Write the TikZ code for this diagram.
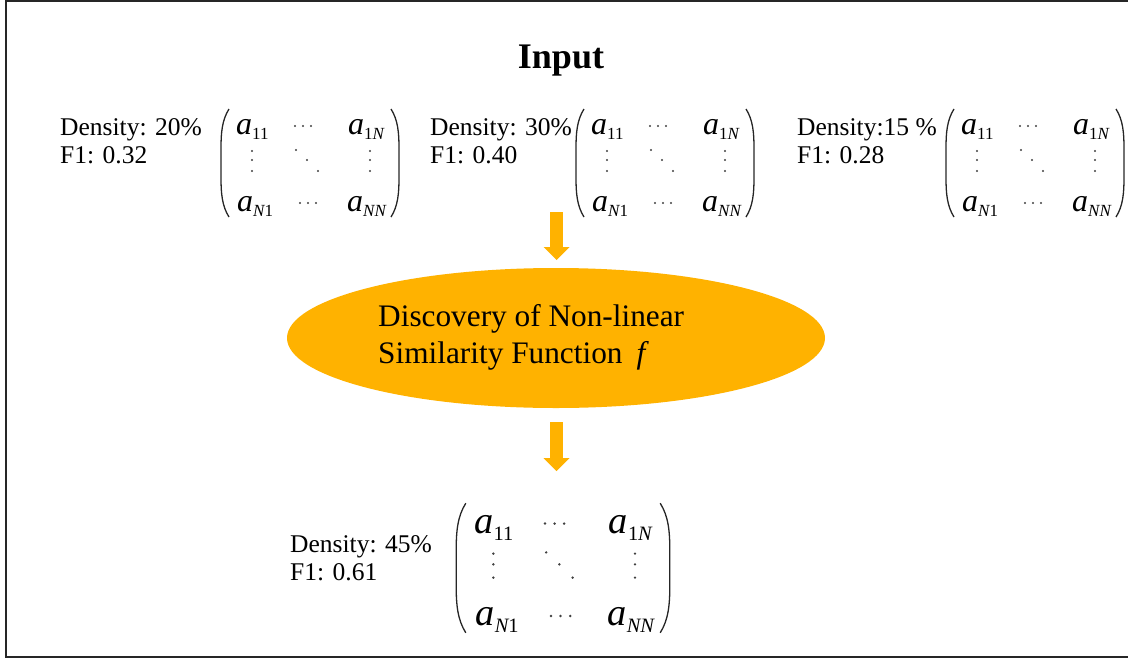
\documentclass[tikz,border=0pt]{standalone}
\usepackage{fontspec}
\setmainfont{Liberation Serif}
\usetikzlibrary{arrows.meta,shapes.geometric}
\definecolor{amber}{RGB}{255,178,0}
\tikzset{
  lbl/.style={anchor=base west, align=left, inner sep=0pt, font=\fontsize{25.5}{28}\selectfont},
  ent/.style={anchor=base west, inner sep=0pt, font=\fontsize{32}{32}\selectfont\itshape},
  dotm/.style={fill=black!75},
  paren/.style={line width=1.3pt, draw=black!85},
  blockarrow/.style={draw=amber, line width=13pt, -{Triangle[line width=0pt, width=26pt, length=13pt, fill=amber]}},
  frame/.style={line width=2.5pt, draw=black!85},
}
\newcommand\sbs[1]{\raisebox{-0.18em}{\fontsize{17}{17}\selectfont #1}}
\newcommand\matblock[4]{%
  \begin{scope}[shift={(#2,#3)}, scale=#4, every node/.append style={transform shape}]
    \draw[paren] (9,1) .. controls (2,12) and (1,25) .. (1,40) -- (1,70) .. controls (1,85) and (2,98) .. (9,109);
    \draw[paren] (171,1) .. controls (178,12) and (179,25) .. (179,40) -- (179,70) .. controls (179,85) and (178,98) .. (171,109);
    \node[ent] (#1-11) at (16,26) {a\sbs{\upshape 11}};
    \node[ent] (#1-1N) at (128,26) {a\sbs{{\upshape 1}N}};
    \node[ent] (#1-N1) at (17,103) {a\sbs{N{\upshape 1}}};
    \node[ent] (#1-NN) at (127,103) {a\sbs{NN}};
    \foreach \x in {75,83,91} \fill[dotm] (\x,18) circle (1.15);
    \foreach \x in {80,88,96} \fill[dotm] (\x,95) circle (1.15);
    \foreach \y in {43,52,63} {\fill[dotm] (32,\y) circle (1.1); \fill[dotm] (150,\y) circle (1.1);}
    \foreach \x/\y in {76/42,87/52,98/63} \fill[dotm] (\x,\y) circle (1.1);
  \end{scope}}
\begin{document}
\begin{tikzpicture}[x=1pt, y=-1pt]
  \useasboundingbox (0,0) rectangle (1128,659);
  \clip (0,0) rectangle (1128,659);
  \draw[frame] (6,1) rectangle (1140,657);

  \node[anchor=base, inner sep=0pt, font=\fontsize{36}{36}\selectfont\bfseries] (title) at (561,68) {Input};

  \node[lbl] (g1) at (60,163) {Density: 20\%\\F1: 0.32};
  \matblock{m1}{220}{108}{1}
  \node[lbl] (g2) at (430,163) {Density: 30\%\\F1: 0.40};
  \matblock{m2}{575}{108}{1}
  \node[lbl] (g3) at (797,163) {Density:15 \%\\F1: 0.28};
  \matblock{m3}{945}{108}{1}

  \coordinate (a1top) at (556.5,212);
  \coordinate (a1tip) at (556.5,260);
  \draw[blockarrow] (a1top) -- (a1tip);

  \node[ellipse, fill=amber, minimum width=538pt, minimum height=140pt, inner sep=0pt] (disc) at (556,338) {};
  \node[anchor=base west, align=left, inner sep=0pt, font=\fontsize{31.3}{37}\selectfont] (disctext) at (378,363) {Discovery of Non-linear\\Similarity Function\hspace{0.45em}\textit{f}};

  \coordinate (a2top) at (556.5,422);
  \coordinate (a2tip) at (556.5,471);
  \draw[blockarrow] (a2top) -- (a2tip);

  \node[lbl] (g4) at (290,580) {Density: 45\%\\F1: 0.61};
  \matblock{m4}{455}{502}{1.2}
\end{tikzpicture}
\end{document}
